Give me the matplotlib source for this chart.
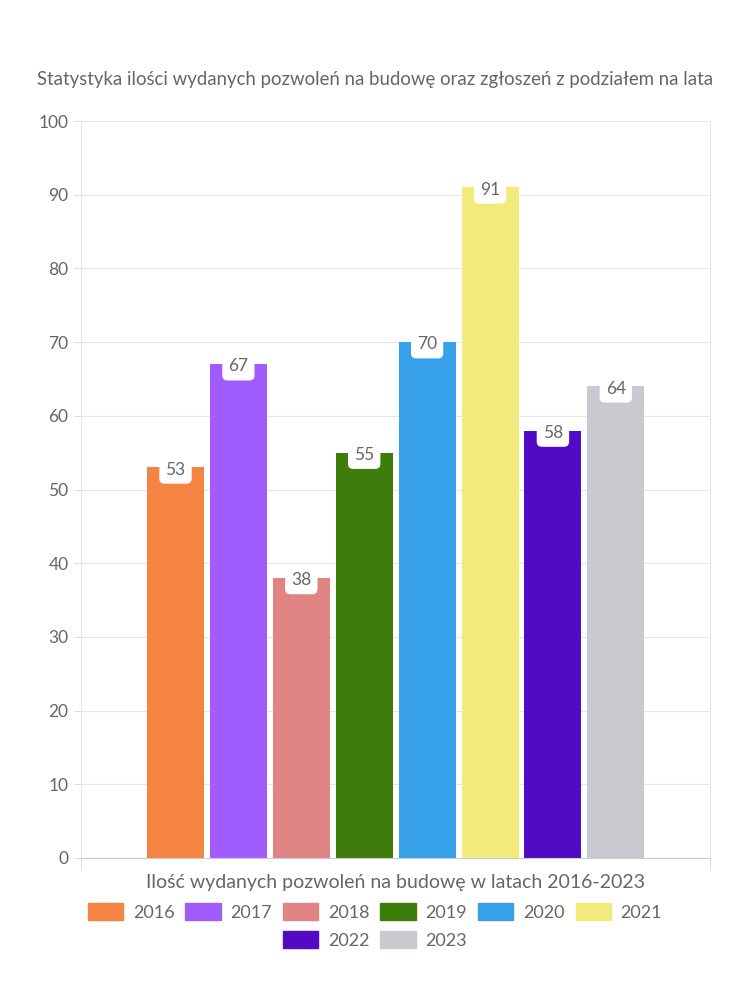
import matplotlib.pyplot as plt
from matplotlib.patches import Patch

plt.rcParams['font.family'] = ['Lato', 'DejaVu Sans']

years = ['2016', '2017', '2018', '2019', '2020', '2021', '2022', '2023']
values = [53, 67, 38, 55, 70, 91, 58, 64]
colors = ['#f58442', '#a05cff', '#e08383', '#3e7c0b', '#37a2ea',
          '#f0eb7a', '#520ac5', '#c9cacf']

txt = '#666666'

fig = plt.figure(figsize=(7.5, 10), dpi=100)
ax = fig.add_axes([0.108, 0.142, 0.8387, 0.737])

pitch = 0.1
width = 0.0906
start = -0.5 + 66 / 629 + width / 2
for i, (y, v, c) in enumerate(zip(years, values, colors)):
    x = start + pitch * i
    ax.bar(x, v, width=width, color=c, zorder=2)
    ax.text(x, v - 0.3, str(v), ha='center', va='center', fontsize=12.5, color=txt, zorder=3,
            bbox=dict(boxstyle='round,pad=0.35,rounding_size=0.3', fc='white', ec='none'))

ax.set_xlim(-0.5, 0.5)
ax.set_ylim(0, 100)
ax.set_yticks(range(0, 101, 10))
ax.set_xticks([-0.5, 0.5])
ax.set_xticklabels(['', ''])
ax.tick_params(axis='y', length=5, color='#dddddd', labelsize=12.5, labelcolor=txt, pad=4)
ax.tick_params(axis='x', length=8, color='#dddddd')
ax.grid(axis='y', color='#e6e6e6', linewidth=0.8, zorder=0)
for s in ['left', 'right', 'top']:
    ax.spines[s].set_color('#e6e6e6')
ax.spines['top'].set_visible(False)
ax.spines['bottom'].set_color('#cccccc')

ax.set_xlabel('Ilość wydanych pozwoleń na budowę w latach 2016-2023', fontsize=14,
              color=txt, labelpad=0)
fig.text(0.5, 0.92, 'Statystyka ilości wydanych pozwoleń na budowę oraz zgłoszeń z podziałem na lata',
         ha='center', va='center', fontsize=13.4, color=txt)

handles = [Patch(color=c, label=y) for y, c in zip(years, colors)]
kw = dict(loc='center', frameon=False, fontsize=13, labelcolor=txt, handlelength=1.95,
          handleheight=1.0, handletextpad=0.55, columnspacing=0.6)
fig.legend(handles=handles[:6], bbox_to_anchor=(0.5, 0.088), ncol=6, **kw)
fig.legend(handles=handles[6:], bbox_to_anchor=(0.5, 0.06), ncol=2, **kw)

fig.savefig('out.png')
